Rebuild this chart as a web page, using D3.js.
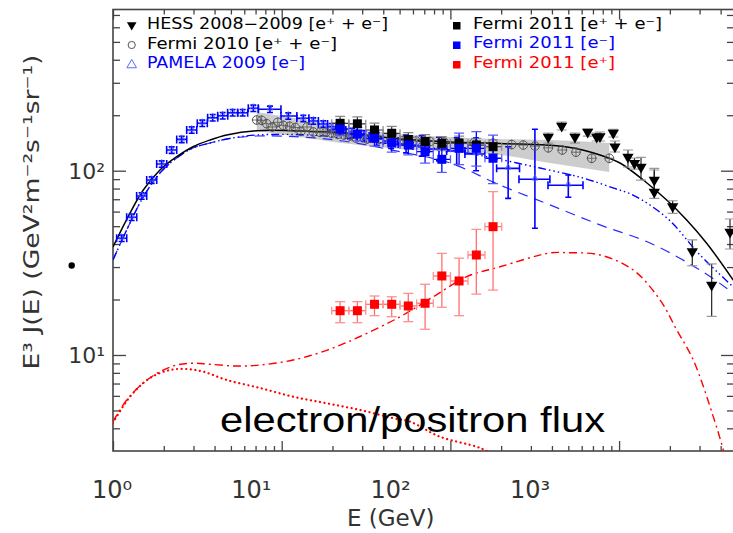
<!DOCTYPE html>
<html>
<head>
<meta charset="utf-8">
<script src="https://cdn.jsdelivr.net/npm/d3@7"></script>
<style>
body { margin: 0; background: #fff; }
svg { display: block; font-family: "DejaVu Sans", sans-serif; }
</style>
</head>
<body>
<div id="chart"></div>
<script>
// E in GeV, flux as E^3 J(E) in GeV^2 m^-2 s^-1 sr^-1
var xDomain = [1, 4800];
var yDomain = [3.013, 749.4];
var xTickVals = [1, 10, 100, 1000];
var xTickLabels = ["10\u2070", "10\u00b9", "10\u00b2", "10\u00b3"];
var yTickVals = [10, 100];
var yTickLabels = ["10\u00b9", "10\u00b2"];

// model curves
var totE = [1.0, 1.261, 1.512, 1.899, 2.386, 2.98, 3.758, 4.72, 7.11, 12.84, 23.09, 50.26, 99.5, 196.8, 491, 770.6, 1012, 1392, 1915, 2516, 3305, 4750];
var totJ = [38.6, 58.9, 78.6, 100.9, 119.1, 134.9, 146.7, 156.2, 164.8, 164.2, 160.2, 148.6, 143.1, 140.4, 134.5, 121.8, 110.1, 89.0, 69.3, 54.0, 40.4, 25.5];
var eleDdE = [1.0, 1.261, 1.512, 1.899, 2.386, 2.98, 3.758, 4.72, 7.11, 14.72, 23.09, 50.26, 99.5, 178.9, 339.8, 611, 920, 1209, 1923, 3017, 4750];
var eleDdJ = [32.8, 52.0, 72.0, 97.2, 117.2, 132.8, 141.3, 148.6, 156.2, 156.2, 150.5, 137.8, 129.5, 117.2, 103.4, 91.3, 80.6, 73.8, 55.4, 34.9, 23.4];
var eleDashE = [1.0, 1.261, 1.512, 1.899, 2.386, 2.98, 3.758, 4.72, 7.11, 12.84, 23.09, 50.26, 99.5, 196.8, 389.5, 770.6, 1525, 3017, 4750];
var eleDashJ = [32.8, 52.0, 72.0, 97.2, 117.2, 132.8, 141.3, 148.6, 154.3, 152.4, 144.9, 126.8, 110.1, 83.6, 65.2, 50.8, 40.5, 28.9, 21.7];
var posTotE = [1.0, 1.206, 1.512, 1.899, 2.386, 2.992, 3.758, 5.41, 7.44, 11.67, 18.48, 29.12, 50.26, 79.2, 124.9, 196.8, 389.5, 489.2, 770.6, 1214, 1748, 2195, 2753, 3617, 4148, 4422];
var posTotJ = [4.35, 5.70, 7.05, 8.12, 8.82, 9.02, 8.90, 8.71, 8.82, 9.39, 10.6, 12.6, 16.1, 20.7, 26.6, 30.1, 35.8, 35.9, 34.9, 28.9, 19.9, 13.7, 9.39, 4.63, 3.05, 2.38];
var posSecE = [1.0, 1.261, 1.657, 2.177, 2.735, 3.43, 4.72, 7.44, 11.67, 18.48, 29.12, 45.87, 57.6, 86.8, 149.8, 196.8];
var posSecJ = [4.28, 5.94, 7.50, 8.29, 8.39, 8.12, 7.32, 6.62, 5.94, 5.47, 5.03, 4.54, 4.35, 3.60, 3.13, 2.76];

// Fermi 2010 e+ + e- and its systematic band
var f10E = [7.11, 7.61, 8.15, 8.80, 9.47, 10.22, 11.15, 12.04, 13.01, 14.13, 15.39, 16.87, 18.31, 19.79, 21.48, 23.41, 25.41, 27.57, 32.03, 37.74, 44.46, 52.36, 62.54, 75.68, 91.6, 112.4, 138.0, 178.9, 230.9, 270.5, 317.3, 380.5, 460.6, 555.3, 688, 874.8];
var f10J = [188.4, 187.7, 179.9, 172.6, 183.0, 176.3, 174.1, 171.5, 163.6, 172.6, 162.2, 161.6, 161.6, 159.6, 157.6, 156.2, 154.3, 150.5, 148.6, 147.7, 146.7, 145.8, 144.9, 144.0, 143.1, 142.2, 141.9, 140.8, 138.7, 137.8, 136.1, 133.1, 129.5, 126.0, 116.8, 116.8];
var bandE = [7.11, 12.84, 25.41, 50.26, 99.5, 196.8, 389.5, 874.8];
var bandLo = [164.2, 152.4, 139.6, 131.1, 126.3, 121.7, 110.1, 98.4];
var bandHi = [208.2, 190.8, 170.5, 158.2, 152.4, 148.6, 146.7, 141.3];

// HESS 2008-2009
var hessE = [380.5, 456.8, 547.6, 651.5, 736.8, 770.6, 923.9, 945.7, 1129, 1234, 1349, 1617, 1617, 2078, 2716, 3539, 4545];
var hessJ = [152.4, 174.8, 152.4, 162.2, 152.4, 153.4, 160.2, 134.9, 118.7, 109.7, 104.7, 89.0, 76.6, 63.9, 36.4, 24.0, 46.5];
var hessLo = [141.3, 166.3, 141.3, 154.2, 144.9, 144.9, 152.4, 126.3, 104.7, 102.1, 89.0, 78.6, 70.8, 58.7, 30.5, 16.2, 37.6];
var hessHi = [160.2, 183.8, 160.2, 168.4, 160.2, 162.2, 167.7, 144.9, 129.5, 117.2, 118.2, 100.9, 103.0, 68.7, 42.1, 31.2, 54.7];

// Fermi 2011 (same energy bins for all three)
var f11E = [22.2, 28.1, 35.5, 44.9, 56.3, 70.8, 89.0, 112.6, 142.5, 179.0];
var f11Elo = [19.8, 25.0, 31.5, 39.9, 50.3, 63.1, 79.2, 100.1, 127.1, 160.3];
var f11Ehi = [25.0, 31.5, 39.9, 50.3, 63.1, 79.2, 100.1, 127.1, 160.3, 201.4];
var allJ = [180.8, 179.7, 166.3, 159.6, 147.7, 144.0, 140.8, 141.3, 137.8, 134.9];
var allLo = [166, 165, 152, 146, 136, 132, 129, 130, 126, 124];
var allHi = [197, 196, 181, 174, 161, 157, 153, 154, 150, 147];
var eleJ = [168.4, 158.2, 149.9, 141.3, 137.8, 126.8, 115.3, 132.3, 132.3, 116.8];
var eleLo = [155, 145, 136, 126, 122, 110, 98, 108, 106, 85];
var eleHi = [182, 172, 165, 157, 154, 145, 134, 160, 163, 156];
var posJ = [17.39, 17.39, 18.84, 18.84, 18.45, 19.08, 26.84, 25.21, 34.88, 49.68];
var posLo = [14.97, 14.97, 16.34, 16.14, 15.16, 13.79, 18.15, 16.34, 21.4, 22.5];
var posHi = [19.47, 19.47, 20.9, 20.7, 21.6, 24.2, 35.6, 33.5, 48.1, 76.9];

// PAMELA 2009 e-
var pamE = [1.126, 1.291, 1.479, 1.696, 1.944, 2.228, 2.555, 2.928, 3.383, 3.899, 4.47, 5.12, 5.87, 6.79, 8.52, 10.94, 13.43, 15.39, 17.64, 19.79, 22.4, 26.1, 30.7, 36.6, 44.5, 54.6, 67.6, 85.6, 109, 142, 220, 317, 500];
var pamElo = [1.051, 1.205, 1.381, 1.584, 1.815, 2.080, 2.386, 2.734, 3.159, 3.640, 4.174, 4.781, 5.481, 6.34, 7.27, 9.9, 12.3, 14.5, 16.5, 18.7, 21.0, 24.0, 28.0, 33.0, 40.0, 49.0, 60.0, 75.0, 95.0, 122, 188, 255, 379];
var pamEhi = [1.206, 1.383, 1.584, 1.816, 2.082, 2.386, 2.736, 3.136, 3.623, 4.176, 4.787, 5.484, 6.287, 7.27, 9.9, 12.3, 14.5, 16.5, 18.7, 21.0, 24.0, 28.0, 33.0, 40.0, 49.0, 60.0, 75.0, 95.0, 122, 160, 257, 389, 611];
var pamJ = [43.0, 55.9, 72.9, 89.0, 108.7, 129.4, 147.9, 166.2, 180.9, 193.9, 198.8, 206.4, 206.4, 218.3, 215.4, 198.1, 192.4, 186.1, 179.2, 173.3, 166.3, 160.2, 154.3, 148.6, 144.9, 139.6, 136.1, 131.1, 127.9, 123.2, 103.0, 89.8, 83.3];
var pamLo = [41.3, 53.7, 70.0, 85.4, 104.4, 124.2, 142.0, 159.6, 173.7, 186.1, 190.8, 198.1, 198.1, 209.6, 206.8, 190.2, 184.7, 178.7, 172.0, 166.4, 158, 151, 144, 137, 132, 125, 120, 113, 108, 100, 70.8, 48.7, 71.7];
var pamHi = [44.7, 58.1, 75.8, 92.6, 113.0, 134.6, 153.8, 172.8, 188.1, 201.7, 206.8, 214.7, 214.7, 227.0, 224.0, 206.0, 200.1, 193.5, 186.4, 180.2, 175, 170, 165, 161, 159, 156, 155, 152, 151, 151, 134.9, 167.7, 94.8];

var legendLeft = ["HESS 2008\u22122009 [e\u207a + e\u207b]", "Fermi 2010 [e\u207a + e\u207b]", "PAMELA 2009 [e\u207b]"];
var legendRight = ["Fermi 2011 [e\u207a + e\u207b]", "Fermi 2011 [e\u207b]", "Fermi 2011 [e\u207a]"];

function zip(a, b) { return a.map(function(v, i) { return [v, b[i]]; }); }

var width = 733, height = 533;
var plot = {left: 113, top: 9.5, right: 734, bottom: 451};

var svg = d3.select("#chart").append("svg")
    .attr("width", width)
    .attr("height", height);

var x = d3.scaleLog().domain(xDomain).range([plot.left, plot.right]);
var y = d3.scaleLog().domain(yDomain).range([plot.bottom, plot.top]);
// the decade labels in the original image sit on a tighter spacing than its tick marks
var xLab = d3.scaleLog().domain([1, 1000]).range([112, 530]);

svg.append("defs").append("clipPath")
    .attr("id", "clip")
  .append("rect")
    .attr("x", plot.left).attr("y", plot.top)
    .attr("width", plot.right - plot.left)
    .attr("height", plot.bottom - plot.top);

// minor tick values (2..9 per decade)
var xMinor = [], yMinor = [];
[1, 10, 100, 1000].forEach(function(d) {
    for (var m = 2; m < 10; m++) if (d * m < xDomain[1]) xMinor.push(d * m);
});
[1, 10, 100].forEach(function(d) {
    for (var m = 2; m < 10; m++) if (d * m > yDomain[0] && d * m < yDomain[1]) yMinor.push(d * m);
});

var axisColor = "#444";
function drawAxis(axis, transform) {
    svg.append("g")
        .attr("transform", transform)
        .attr("color", axisColor)
        .call(axis)
        .call(function(g) { g.select(".domain").remove(); })
        .selectAll("line").attr("stroke-width", 1.3);
}
drawAxis(d3.axisBottom(x).tickValues(xMinor).tickSize(-5).tickFormat(""), "translate(0," + plot.bottom + ")");
drawAxis(d3.axisBottom(x).tickValues(xTickVals).tickSize(-10).tickFormat(""), "translate(0," + plot.bottom + ")");
drawAxis(d3.axisTop(x).tickValues(xMinor).tickSize(-5).tickFormat(""), "translate(0," + plot.top + ")");
drawAxis(d3.axisTop(x).tickValues(xTickVals).tickSize(-10).tickFormat(""), "translate(0," + plot.top + ")");
drawAxis(d3.axisLeft(y).tickValues(yMinor).tickSize(-7).tickFormat(""), "translate(" + plot.left + ",0)");
drawAxis(d3.axisLeft(y).tickValues(yTickVals).tickSize(-13).tickFormat(""), "translate(" + plot.left + ",0)");
drawAxis(d3.axisRight(y).tickValues(yMinor).tickSize(-7).tickFormat(""), "translate(" + plot.right + ",0)");
drawAxis(d3.axisRight(y).tickValues(yTickVals).tickSize(-13).tickFormat(""), "translate(" + plot.right + ",0)");

svg.append("rect")
    .attr("x", plot.left).attr("y", plot.top)
    .attr("width", plot.right - plot.left)
    .attr("height", plot.bottom - plot.top)
    .attr("fill", "none")
    .attr("stroke", axisColor)
    .attr("stroke-width", 1.6);

// tick labels
svg.append("g").selectAll("text")
    .data(xTickVals)
    .enter().append("text")
    .attr("x", function(d) { return xLab(d); })
    .attr("y", 498)
    .attr("text-anchor", "middle")
    .attr("font-size", 24)
    .attr("fill", "#333")
    .text(function(d, i) { return xTickLabels[i]; });

svg.append("g").selectAll("text")
    .data(yTickVals)
    .enter().append("text")
    .attr("x", 105)
    .attr("y", function(d) { return y(d) + 8; })
    .attr("text-anchor", "end")
    .attr("font-size", 22)
    .attr("fill", "#333")
    .text(function(d, i) { return yTickLabels[i]; });

svg.append("text")
    .attr("x", xLab(100))
    .attr("y", 526)
    .attr("text-anchor", "middle")
    .attr("font-size", 23)
    .attr("fill", "#333")
    .text("E (GeV)");

svg.append("text")
    .attr("transform", "translate(39,212) rotate(-90)")
    .attr("text-anchor", "middle")
    .attr("font-size", 21)
    .attr("fill", "#333")
    .attr("textLength", 315)
    .attr("lengthAdjust", "spacingAndGlyphs")
    .text("E\u00b3 J(E) (GeV\u00b2m\u207b\u00b2s\u207b\u00b9sr\u207b\u00b9)");

svg.append("circle").attr("cx", 71.7).attr("cy", 265.5).attr("r", 3.2).attr("fill", "#000");

// data layer
var focus = svg.append("g").attr("clip-path", "url(#clip)");

focus.append("path")
    .datum(d3.range(bandE.length))
    .attr("fill", "#c4c4c4")
    .attr("opacity", 0.85)
    .attr("d", d3.area()
        .curve(d3.curveMonotoneX)
        .x(function(i) { return x(bandE[i]); })
        .y0(function(i) { return y(bandLo[i]); })
        .y1(function(i) { return y(bandHi[i]); }));

var line = d3.line()
    .curve(d3.curveCatmullRom)
    .x(function(d) { return x(d[0]); })
    .y(function(d) { return y(d[1]); });

function curve(E, J, color, dash, w) {
    focus.append("path")
        .datum(zip(E, J))
        .attr("fill", "none")
        .attr("stroke", color)
        .attr("stroke-width", w || 1.4)
        .attr("stroke-dasharray", dash)
        .attr("stroke-linecap", dash === "0.1,4.5" ? "round" : "butt")
        .attr("d", line);
}
curve(posSecE, posSecJ, "#ff0000", "0.1,4.5", 2.2);
curve(posTotE, posTotJ, "#ff0000", "8,4,2,4", 1.4);
curve(eleDashE, eleDashJ, "#2a2aff", "10,7", 1.2);
curve(eleDdE, eleDdJ, "#0000ff", "8,3,1.5,3,1.5,3,1.5,3", 1.4);
curve(totE, totJ, "#000", null, 1.5);

function errorBars(E, J, Elo, Ehi, Jlo, Jhi, color, capColor, w, capW) {
    var g = focus.append("g");
    var idx = d3.range(E.length);
    if (Jlo) {
        g.selectAll(".v").data(idx).enter().append("line")
            .attr("x1", function(i) { return x(E[i]); }).attr("x2", function(i) { return x(E[i]); })
            .attr("y1", function(i) { return y(Jlo[i]); }).attr("y2", function(i) { return y(Jhi[i]); })
            .attr("stroke", color).attr("stroke-width", w);
        [Jlo, Jhi].forEach(function(arr) {
            g.selectAll(null).data(idx).enter().append("line")
                .attr("x1", function(i) { return x(E[i]) - capW; }).attr("x2", function(i) { return x(E[i]) + capW; })
                .attr("y1", function(i) { return y(arr[i]); }).attr("y2", function(i) { return y(arr[i]); })
                .attr("stroke", capColor).attr("stroke-width", w);
        });
    }
    if (Elo) {
        g.selectAll(".h").data(idx).enter().append("line")
            .attr("x1", function(i) { return x(Elo[i]); }).attr("x2", function(i) { return x(Ehi[i]); })
            .attr("y1", function(i) { return y(J[i]); }).attr("y2", function(i) { return y(J[i]); })
            .attr("stroke", color).attr("stroke-width", w);
        [Elo, Ehi].forEach(function(arr) {
            g.selectAll(null).data(idx).enter().append("line")
                .attr("x1", function(i) { return x(arr[i]); }).attr("x2", function(i) { return x(arr[i]); })
                .attr("y1", function(i) { return y(J[i]) - 4; }).attr("y2", function(i) { return y(J[i]) + 4; })
                .attr("stroke", capColor).attr("stroke-width", w);
        });
    }
    return g;
}

// PAMELA
errorBars(pamE, pamJ, pamElo, pamEhi, pamLo, pamHi, "#0000ff", "#0000ff", 1.6, 3);
focus.append("g").selectAll("path")
    .data(d3.range(pamE.length))
    .enter().append("path")
    .attr("d", d3.symbol().type(d3.symbolTriangle).size(16))
    .attr("transform", function(i) { return "translate(" + x(pamE[i]) + "," + (y(pamJ[i]) - 1) + ")"; })
    .attr("fill", "none").attr("stroke", "#4a5cff").attr("stroke-width", 0.8);

// Fermi 2010 circles with small error cross
var f10 = focus.append("g");
f10.selectAll("line.v").data(d3.range(f10E.length)).enter().append("line")
    .attr("x1", function(i) { return x(f10E[i]); }).attr("x2", function(i) { return x(f10E[i]); })
    .attr("y1", function(i) { return y(f10J[i]) - 5; }).attr("y2", function(i) { return y(f10J[i]) + 5; })
    .attr("stroke", "#555").attr("stroke-width", 0.8);
f10.selectAll("line.h").data(d3.range(f10E.length)).enter().append("line")
    .attr("x1", function(i) { return x(f10E[i]) - 5; }).attr("x2", function(i) { return x(f10E[i]) + 5; })
    .attr("y1", function(i) { return y(f10J[i]); }).attr("y2", function(i) { return y(f10J[i]); })
    .attr("stroke", "#555").attr("stroke-width", 0.8);
f10.selectAll("circle").data(d3.range(f10E.length)).enter().append("circle")
    .attr("cx", function(i) { return x(f10E[i]); })
    .attr("cy", function(i) { return y(f10J[i]); })
    .attr("r", 4.3)
    .attr("fill", "none").attr("stroke", "#555").attr("stroke-width", 1);

// Fermi 2011
function squares(J, color) {
    focus.append("g").selectAll("rect")
        .data(d3.range(f11E.length))
        .enter().append("rect")
        .attr("x", function(i) { return x(f11E[i]) - 4.5; })
        .attr("y", function(i) { return y(J[i]) - 4.5; })
        .attr("width", 9).attr("height", 9)
        .attr("fill", color);
}
errorBars(f11E, posJ, f11Elo, f11Ehi, posLo, posHi, "#ff7070", "#ff9090", 1.3, 5);
squares(posJ, "#ff0000");
errorBars(f11E, allJ, f11Elo, f11Ehi, allLo, allHi, "#333", "#888", 1.2, 5);
errorBars(f11E, eleJ, f11Elo, f11Ehi, eleLo, eleHi, "#0000ff", "#5a5aff", 1.3, 5);
squares(allJ, "#000");
squares(eleJ, "#0000ff");

// HESS
errorBars(hessE, hessJ, null, null, hessLo, hessHi, "#222", "#999", 1.2, 5);
focus.append("g").selectAll("path")
    .data(d3.range(hessE.length))
    .enter().append("path")
    .attr("d", d3.symbol().type(d3.symbolTriangle).size(55))
    .attr("transform", function(i) { return "translate(" + x(hessE[i]) + "," + y(hessJ[i]) + ") rotate(180)"; })
    .attr("fill", "#000");

// legend
var legend = svg.append("g").attr("class", "legend");
var lRows = [29, 48.5, 68], rRows = [28.5, 48, 67.5];
var lColors = ["#000", "#000", "#0000ff"], rColors = ["#000", "#0000ff", "#ff0000"];
var lLens = [241, 190, 158], rLens = [189, 142, 142];
legend.selectAll("text.l").data(legendLeft).enter().append("text")
    .attr("x", 147).attr("y", function(d, i) { return lRows[i]; })
    .attr("font-size", 15.5)
    .attr("fill", function(d, i) { return lColors[i]; })
    .attr("textLength", function(d, i) { return lLens[i]; })
    .attr("lengthAdjust", "spacingAndGlyphs")
    .text(function(d) { return d; });
legend.selectAll("text.r").data(legendRight).enter().append("text")
    .attr("x", 473).attr("y", function(d, i) { return rRows[i]; })
    .attr("font-size", 15.5)
    .attr("fill", function(d, i) { return rColors[i]; })
    .attr("textLength", function(d, i) { return rLens[i]; })
    .attr("lengthAdjust", "spacingAndGlyphs")
    .text(function(d) { return d; });
legend.append("path")
    .attr("d", d3.symbol().type(d3.symbolTriangle).size(40))
    .attr("transform", "translate(131.7,25) rotate(180)")
    .attr("fill", "#000");
legend.append("circle")
    .attr("cx", 131.7).attr("cy", 45).attr("r", 3.6)
    .attr("fill", "none").attr("stroke", "#555");
legend.append("path")
    .attr("d", d3.symbol().type(d3.symbolTriangle).size(40))
    .attr("transform", "translate(131.7,65)")
    .attr("fill", "none").attr("stroke", "#5a6aff");
legend.selectAll("rect").data(rColors).enter().append("rect")
    .attr("x", 453).attr("y", function(d, i) { return rRows[i] - 6.5; })
    .attr("width", 7.5).attr("height", 7.5)
    .attr("fill", function(d) { return d; });

svg.append("text")
    .attr("x", 220).attr("y", 432)
    .attr("font-family", "'Liberation Sans', Arial, sans-serif")
    .attr("font-size", 35)
    .attr("fill", "#000")
    .attr("textLength", 385)
    .attr("lengthAdjust", "spacingAndGlyphs")
    .text("electron/positron flux");
</script>
</body>
</html>
